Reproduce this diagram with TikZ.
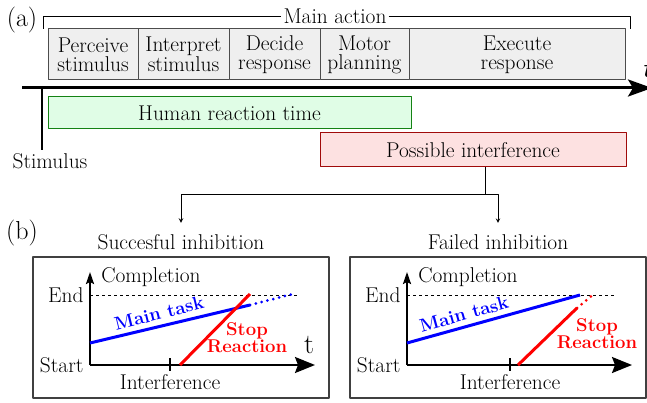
\documentclass[tikz,border=0pt]{standalone}
\usepackage{fontspec}
\usetikzlibrary{arrows.meta}
\definecolor{stagegray}{RGB}{239,239,239}
\definecolor{hrtfill}{RGB}{224,253,230}
\definecolor{hrtdraw}{RGB}{20,130,20}
\definecolor{intffill}{RGB}{253,225,225}
\definecolor{intfdraw}{RGB}{160,10,10}
\tikzset{
  stage/.style={draw=black!70, fill=stagegray, line width=1pt, minimum height=51pt, inner sep=0pt, align=center},
  hrt/.style={draw=hrtdraw, fill=hrtfill, line width=1pt, minimum width=363pt, minimum height=32pt},
  intf/.style={draw=intfdraw, fill=intffill, line width=1pt, minimum width=306pt, minimum height=34pt},
  partlbl/.style={font=\fontsize{26}{26}\selectfont, inner sep=0pt},
  frame/.style={draw=black!75, line width=1.2pt},
  axis/.style={line width=2pt},
  endline/.style={line width=0.8pt, dash pattern=on 3pt off 3pt},
  task/.style={blue, line width=3pt},
  stop/.style={red, line width=3pt},
  dots/.style={line cap=round, dash pattern=on 0pt off 6pt},
  tasklbl/.style={blue, font=\fontsize{18.5}{16}\selectfont\bfseries},
  stoplbl/.style={red, align=center, font=\fontsize{18.5}{16}\selectfont\bfseries}
}
\begin{document}
\begin{tikzpicture}[x=1pt, y=-1pt, font=\fontsize{21.4}{19}\selectfont, line join=round, >=stealth]
	\useasboundingbox (0,0) rectangle (647,403);
	\path
	(43,29) coordinate (brL)
	(630,29) coordinate (brR)
	(22,88) coordinate (T0)
	(652,88) coordinate (T1)
	(42,88) coordinate (S0)
	(485,195) coordinate (F)
	;
	% (a) timeline
	\node[partlbl] (a) at (22,20) {(a)};
	\foreach \n/\cx/\w/\txt in {perc/93/90/{Perceive\\stimulus}, intp/183.5/91/{Interpret\\stimulus}, deci/274.5/91/{Decide\\response}, motr/364.5/89/{Motor\\planning}, exec/517/216/{Execute\\response}}
	\node[stage, minimum width=\w pt] (\n) at (\cx,54.5) {\txt};
	\node[fill=white, inner sep=2pt] (main) at (335,16) {Main action};
	\draw[line width=0.8pt] (brL) |- (main.west) (main.east) -| (brR);
	\draw[line width=3pt, -{Stealth[length=24pt,width=17pt,inset=5pt]}] (T0) -- (T1);
	\node (tt) at (647,69) {\fontsize{27}{27}\selectfont\bfseries\itshape t};
	\node (stim) at (50,161) {Stimulus};
	\draw[line width=1.2pt] (S0) -- (stim.north -| S0);
	\node[hrt] (hrt) at (229.5,113) {Human reaction time};
	\node[intf] (intf) at (473,150) {Possible interference};
	% (b) the two outcomes
	\node[partlbl] (b) at (22,233) {(b)};
	\foreach \s/\p/\ttl in {0/L/Succesful inhibition, 317/R/Failed inhibition}
	{
	\begin{scope}[xshift=\s]
	\node (ttl\p) at (181,242) {\ttl};
	\draw[frame] (33,257) rectangle (329,398);
	\path (90,365) coordinate (O\p) (315,365) coordinate (X\p) (90,272) coordinate (Y\p);
	\draw[endline] (90,295) -- (297,295);
	\draw[axis, -{Stealth[length=20pt,width=16pt,inset=3pt]}] (O\p) -- (X\p);
	\draw[axis, -{Stealth[length=12pt,width=8pt,inset=2pt]}] (O\p) -- (Y\p);
	\node[anchor=east] (end\p) at (87,295) {End};
	\node[anchor=east] (start\p) at (87,365) {Start};
	\node (comp\p) at (151,277) {Completion};
	\end{scope}
	}
	\draw[line width=1pt] (intf.south -| F) -- (F);
	\draw[line width=1pt, ->] (F) -| ([yshift=8pt]ttlL.north);
	\draw[line width=1pt, ->] (F) -| ([yshift=8pt]ttlR.north);
	% left: stop wins
	\path (90,343) coordinate (mL0) (250,305) coordinate (mL1) (293,294) coordinate (mL2)
	(180,365) coordinate (sL0) (250,294) coordinate (sL1);
	\draw[task] (mL0) -- (mL1);
	\draw[task, dots] (mL1) -- (mL2);
	\draw[stop] (sL0) -- (sL1);
	\draw[line width=1.2pt] (170,358) -- (170,371);
	\node (intfL) at (170,382) {Interference};
	\node[tasklbl, rotate=14] (taskL) at (159,313) {Main task};
	\node[stoplbl] (stopL) at (247,338) {Stop\\Reaction};
	\node (tL) at (309,345) {\fontsize{28}{28}\selectfont t};
	% right: main task wins
	\path (407,343) coordinate (mR0) (580,295) coordinate (mR1)
	(518,365) coordinate (sR0) (577,308) coordinate (sR1) (595,293) coordinate (sR2);
	\draw[task] (mR0) -- (mR1);
	\draw[stop] (sR0) -- (sR1);
	\draw[stop, dots] (sR1) -- (sR2);
	\draw[line width=1.2pt] (510,358) -- (510,371);
	\node (intfR) at (510,382) {Interference};
	\node[tasklbl, rotate=15.5] (taskR) at (464,314) {Main task};
	\node[stoplbl] (stopR) at (597,334) {Stop\\Reaction};
\end{tikzpicture}
\end{document}
